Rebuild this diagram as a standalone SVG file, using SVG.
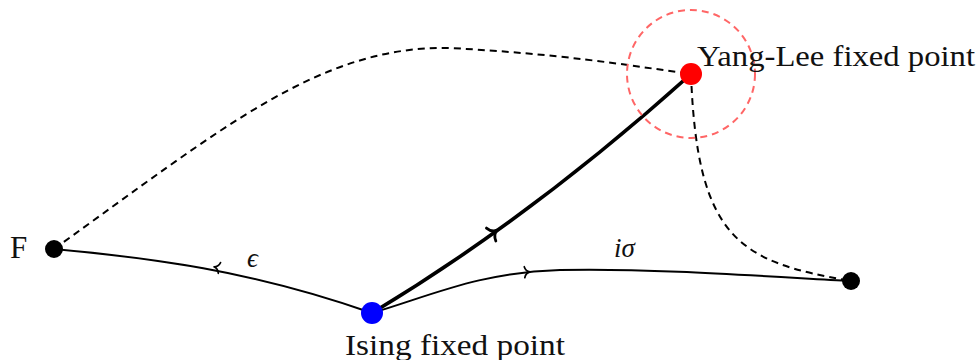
<svg xmlns="http://www.w3.org/2000/svg" width="980" height="360" viewBox="0 0 980 360">
<style>
.lbl{font-family:"Liberation Serif","DejaVu Serif",serif;font-size:29px;fill:#111}
.math{font-family:"Liberation Serif","DejaVu Serif",serif;font-style:italic;font-size:27px;fill:#111}
.thin{fill:none;stroke:#000;stroke-width:2}
.thick{fill:none;stroke:#000;stroke-width:3.6}
.dash{fill:none;stroke:#000;stroke-width:2;stroke-dasharray:7 5}
.arr{fill:none;stroke:#000;stroke-linecap:round;stroke-linejoin:round}
</style>
<rect width="980" height="360" fill="#fff"/>
<g id="connectors">
<path class="dash" d="M54,249 C220,130 320,45 450,48 C560,54 620,64 691,74"/>
<path class="dash" d="M691,74 C697,240 740,262 851,281"/>
<path class="thin" d="M54,249 C150,258 250,270 372,313"/>
<path class="thin" d="M372,313 C430,296 480,272 560,270 C650,268 760,276 851,281"/>
<path class="thick" d="M372,313 Q532,217 691,74"/>
<path class="arr" stroke-width="1.7" transform="translate(215,267) rotate(192)" d="M-4.5,-5.5 C-3.5,-1.6 -0.5,-0.3 1,0 C-0.5,0.3 -3.5,1.6 -4.5,5.5"/>
<path class="arr" stroke-width="1.7" transform="translate(529,272) rotate(-3)" d="M-4.5,-5.5 C-3.5,-1.6 -0.5,-0.3 1,0 C-0.5,0.3 -3.5,1.6 -4.5,5.5"/>
<path class="arr" stroke-width="2.8" transform="translate(496,231) rotate(-36)" d="M-6,-8 C-4.5,-2.2 -0.8,-0.4 1.5,0 C-0.8,0.4 -4.5,2.2 -6,8"/>
</g>
<g id="yang-lee-halo">
<circle cx="691" cy="74" r="64" fill="none" stroke="#ff6666" stroke-width="2" stroke-dasharray="7 5"/>
</g>
<g id="node-F">
<circle cx="54" cy="249" r="9" fill="#000"/>
<text class="lbl" x="10" y="258" style="font-size:31px">F</text>
</g>
<g id="node-ising">
<circle cx="372" cy="313" r="11" fill="#0000ff"/>
<text class="lbl" x="345" y="355" textLength="220" lengthAdjust="spacingAndGlyphs">Ising fixed point</text>
</g>
<g id="node-yang-lee">
<circle cx="691" cy="74" r="11" fill="#ff0000"/>
<text class="lbl" x="697" y="66" textLength="278" lengthAdjust="spacingAndGlyphs">Yang-Lee fixed point</text>
</g>
<g id="node-right">
<circle cx="851" cy="281" r="9" fill="#000"/>
</g>
<g id="labels">
<text class="math" x="247" y="267">ϵ</text>
<text class="math" x="614" y="257">iσ</text>
</g>
</svg>
